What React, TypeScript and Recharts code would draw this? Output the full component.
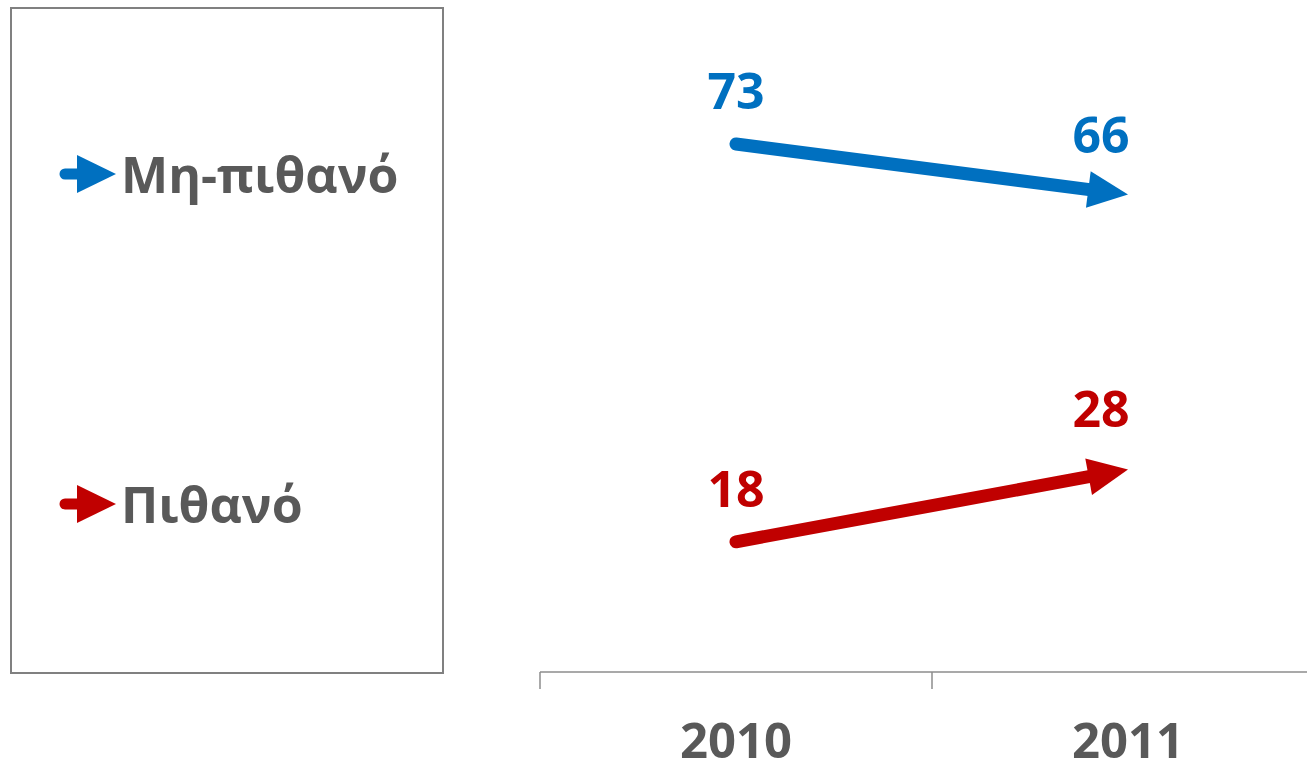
import { ComposedChart, Line, XAxis, YAxis } from "recharts";

const years = ["2010", "2011"];
const unlikely = [73, 66];
const likely = [18, 28];
const seriesNames = ["Μη-πιθανό", "Πιθανό"];

const BLUE = "#0070C0";
const RED = "#C00000";
const seriesColors = [BLUE, RED];
const GREY = "#595959";
const FONT = "'Open Sans', sans-serif";

const data = years.map((year, i) => ({ year, unlikely: unlikely[i], likely: likely[i] }));

// value labels: first point centred, last point pulled left of the arrow tip
const makeLabel = (color: string) => (props: any) => {
  const { x, y, value, index } = props;
  const dx = index === 0 ? 0 : -27;
  const dy = index === 0 ? -35 : -42;
  return (
    <text x={x + dx} y={y + dy} textAnchor="middle" fill={color} fontSize={50} fontWeight={700} fontFamily={FONT}>
      {value}
    </text>
  );
};

// year label at band centre, tick mark at band start
const YearTick = (props: any) => {
  const { x, y, payload } = props;
  const half = payload.offset || 0;
  return (
    <g>
      <line x1={x - half} x2={x - half} y1={y - 8} y2={y + 9} stroke="#8c8c8c" strokeWidth={1.5} />
      <text x={x} y={y + 78} textAnchor="middle" fill={GREY} fontSize={49} fontWeight={700} fontFamily={FONT}>
        {payload.value}
      </text>
    </g>
  );
};

const LegendBox = () => {
  const rows = [165, 495];
  return (
    <div style={{ position: "absolute", left: 10, top: 7, width: 430, height: 663, border: "2px solid #808080", background: "#fff" }}>
      {seriesNames.map((name, i) => (
        <div key={name} style={{ position: "absolute", left: 45, top: rows[i] - 30, display: "flex", alignItems: "center" }}>
          <svg width={60} height={40} style={{ overflow: "visible" }}>
            <line x1={8} y1={20} x2={24} y2={20} stroke={seriesColors[i]} strokeWidth={11} strokeLinecap="round" />
            <path d="M20,1 L59,20 L20,39 Z" fill={seriesColors[i]} />
          </svg>
          <span style={{ marginLeft: 4, color: GREY, fontSize: 50, fontWeight: 700, fontFamily: FONT, lineHeight: "60px", whiteSpace: "nowrap" }}>
            {name}
          </span>
        </div>
      ))}
    </div>
  );
};

const Arrow = ({ id, color }: { id: string; color: string }) => (
  <marker id={id} markerUnits="userSpaceOnUse" viewBox="-50 -30 60 60" markerWidth={60} markerHeight={60} refX={0} refY={0} orient="auto" overflow="visible">
    <rect x={-16} y={-8} width={26} height={16} fill="#fff" />
    <path d="M0,0 L-40,-18.5 L-40,18.5 Z" fill={color} />
  </marker>
);

export default function App() {
  return (
    <div style={{ position: "fixed", left: 0, top: 0, width: 1307, height: 766, overflow: "hidden", background: "#fff" }}>
      <ComposedChart width={1330} height={766} data={data} margin={{ top: 21, right: 6, bottom: 34, left: 540 }}>
        <defs>
          <Arrow id="arrowBlue" color={BLUE} />
          <Arrow id="arrowRed" color={RED} />
        </defs>
        <XAxis dataKey="year" scale="band" height={60} tickLine={false} axisLine={{ stroke: "#8c8c8c", strokeWidth: 1.5 }} tick={<YearTick />} interval={0} />
        <YAxis hide domain={[0, 90]} />
        <Line
          dataKey="unlikely"
          name={seriesNames[0]}
          stroke={BLUE}
          strokeWidth={13}
          strokeLinecap="round"
          dot={false}
          activeDot={false}
          type="linear"
          markerEnd="url(#arrowBlue)"
          label={makeLabel(BLUE)}
          isAnimationActive={false}
        />
        <Line
          dataKey="likely"
          name={seriesNames[1]}
          stroke={RED}
          strokeWidth={13}
          strokeLinecap="round"
          dot={false}
          activeDot={false}
          type="linear"
          markerEnd="url(#arrowRed)"
          label={makeLabel(RED)}
          isAnimationActive={false}
        />
      </ComposedChart>
      <LegendBox />
    </div>
  );
}
